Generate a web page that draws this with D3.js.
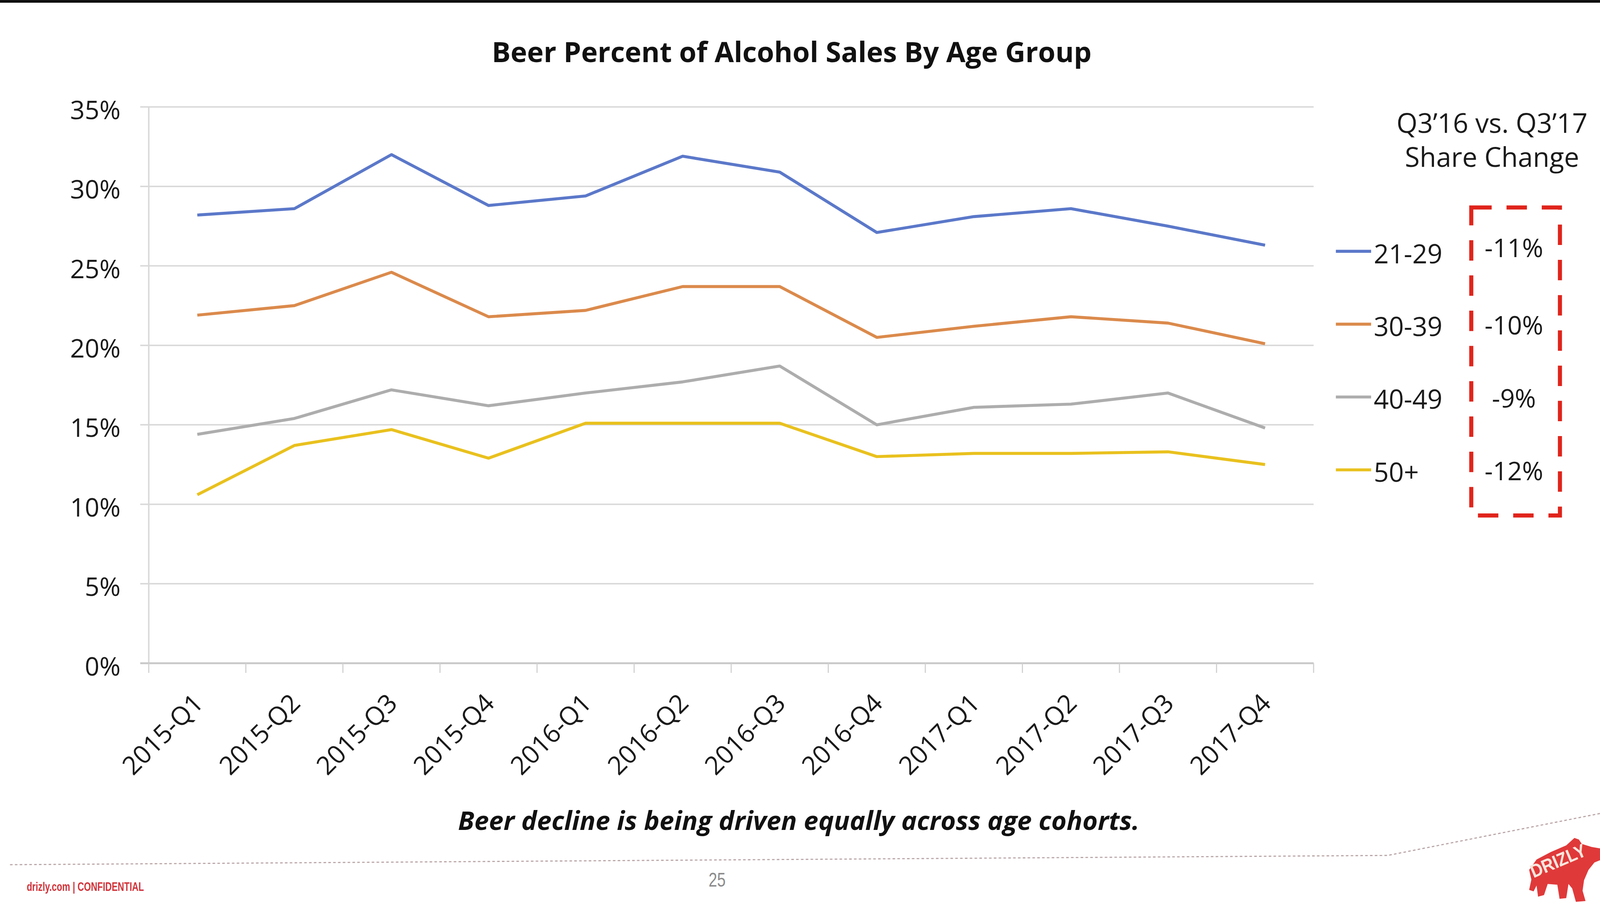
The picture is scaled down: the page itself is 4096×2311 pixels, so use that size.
<!DOCTYPE html>
<html>
<head>
<meta charset="utf-8">
<script src="https://cdn.jsdelivr.net/npm/d3@7"></script>
<style>
  html, body { margin: 0; padding: 0; background: #ffffff; }
  svg { display: block; }
</style>
</head>
<body>
<svg id="chart"></svg>
<script>
// ---------------- DATA ----------------
const categories = ["2015-Q1","2015-Q2","2015-Q3","2015-Q4","2016-Q1","2016-Q2","2016-Q3","2016-Q4","2017-Q1","2017-Q2","2017-Q3","2017-Q4"];
const seriesNames = ["21-29","30-39","40-49","50+"];
const age21_29  = [28.2, 28.6, 32.0, 28.8, 29.4, 31.9, 30.9, 27.1, 28.1, 28.6, 27.5, 26.3];
const age30_39  = [21.9, 22.5, 24.6, 21.8, 22.2, 23.7, 23.7, 20.5, 21.2, 21.8, 21.4, 20.1];
const age40_49  = [14.4, 15.4, 17.2, 16.2, 17.0, 17.7, 18.7, 15.0, 16.1, 16.3, 17.0, 14.8];
const age50plus = [10.6, 13.7, 14.7, 12.9, 15.1, 15.1, 15.1, 13.0, 13.2, 13.2, 13.3, 12.5];
const shareChange = ["-11%","-10%","-9%","-12%"];
const yTicks = [0, 5, 10, 15, 20, 25, 30, 35];
const titleText = "Beer Percent of Alcohol Sales By Age Group";
const legendHeader = ["Q3\u201916 vs. Q3\u201917", "Share Change"];
const captionText = "Beer decline is being driven equally across age cohorts.";
const footerText = "drizly.com | CONFIDENTIAL";
const pageNumber = "25";

const seriesValues = [age21_29, age30_39, age40_49, age50plus];
const seriesColors = ["#5B78C9", "#DB8A4C", "#ADADAD", "#E9C11E"];

// ---------------- LAYOUT (reference pixel space) ----------------
const W = 4313, H = 2433;
const svg = d3.select("#chart")
  .attr("width", 4096).attr("height", 2311)
  .attr("viewBox", `0 0 ${W} ${H}`);

const FONT = "'Open Sans', 'Noto Sans', sans-serif";
const NARROW = "'Liberation Sans Narrow', 'Liberation Sans', sans-serif";

function fitWidth(sel, target) {
  const w = sel.node().getComputedTextLength();
  const fs = parseFloat(sel.attr("font-size"));
  sel.attr("font-size", fs * target / w);
  return fs * target / w;
}

svg.append("rect").attr("x", 0).attr("y", 0).attr("width", W).attr("height", H).attr("fill", "#ffffff");
svg.append("rect").attr("x", 0).attr("y", 0).attr("width", W).attr("height", 7).attr("fill", "#000000");

const plot = { left: 401, right: 3541, top: 288, bottom: 1787 };

const x = d3.scaleBand().domain(categories).range([plot.left, plot.right]).padding(0);
const y = d3.scaleLinear().domain([0, 35]).range([plot.bottom, plot.top]);

// gridlines
svg.append("g").selectAll("line").data(yTicks.filter(d => d > 0)).join("line")
  .attr("x1", plot.left - 23).attr("x2", plot.right)
  .attr("y1", d => y(d)).attr("y2", d => y(d))
  .attr("stroke", "#D9D9D9").attr("stroke-width", 4);

// y axis line
svg.append("line")
  .attr("x1", plot.left).attr("x2", plot.left)
  .attr("y1", y(35)).attr("y2", y(0))
  .attr("stroke", "#D9D9D9").attr("stroke-width", 4);

// x axis line + ticks between categories
svg.append("line")
  .attr("x1", plot.left - 23).attr("x2", plot.right)
  .attr("y1", y(0)).attr("y2", y(0))
  .attr("stroke", "#C8C8C8").attr("stroke-width", 5);
const tickPos = categories.map(c => x(c)).concat([plot.right]);
svg.append("g").selectAll("line").data(tickPos).join("line")
  .attr("x1", d => d).attr("x2", d => d)
  .attr("y1", y(0)).attr("y2", y(0) + 26)
  .attr("stroke", "#D0D0D0").attr("stroke-width", 3);

// y axis labels
const yAxis = d3.axisLeft(y).tickValues(yTicks).tickFormat(d => d + "%").tickSize(0).tickPadding(0);
const yAxisG = svg.append("g").attr("transform", `translate(${325},0)`).call(yAxis);
yAxisG.select(".domain").remove();
yAxisG.selectAll("text")
  .attr("font-family", FONT).attr("font-size", 69).attr("fill", "#1A1A1A")
  .attr("dy", "0.47em").attr("x", 0);

// x axis labels (rotated)
const xAxis = d3.axisBottom(x).tickSize(0).tickPadding(0);
const xAxisG = svg.append("g").attr("transform", `translate(0,${plot.bottom})`).call(xAxis);
xAxisG.select(".domain").remove();
xAxisG.selectAll(".tick text")
  .attr("font-family", FONT).attr("font-size", 69).attr("fill", "#1A1A1A")
  .attr("text-anchor", "end")
  .attr("y", 0).attr("dy", 0)
  .attr("transform", "translate(20,112) rotate(-45)");

// lines
const line = d3.line()
  .x((d, i) => x(categories[i]) + x.bandwidth() / 2)
  .y(d => y(d));
svg.append("g").selectAll("path").data(seriesValues).join("path")
  .attr("d", d => line(d))
  .attr("fill", "none")
  .attr("stroke", (d, i) => seriesColors[i])
  .attr("stroke-width", 8)
  .attr("stroke-linejoin", "round")
  .attr("stroke-linecap", "butt");

// title
const title = svg.append("text")
  .attr("x", 2134).attr("y", 167)
  .attr("text-anchor", "middle")
  .attr("font-family", FONT).attr("font-weight", 700)
  .attr("font-size", 80).attr("fill", "#111111")
  .text(titleText);
fitWidth(title, 1617);

// legend header
const lh = svg.append("g");
const lh1 = lh.append("text").attr("x", 4022).attr("y", 358)
  .attr("text-anchor", "middle").attr("font-family", FONT).attr("font-size", 70)
  .attr("fill", "#1A1A1A").text(legendHeader[0]);
const lfs = fitWidth(lh1, 515);
lh.append("text").attr("x", 4022).attr("y", 449)
  .attr("text-anchor", "middle").attr("font-family", FONT).attr("font-size", lfs)
  .attr("fill", "#1A1A1A").text(legendHeader[1]);

// legend rows
const rowY = d3.scalePoint().domain(seriesNames).range([683, 1272]);
const legend = svg.append("g");
legend.selectAll("line").data(seriesNames).join("line")
  .attr("x1", 3601).attr("x2", 3696)
  .attr("y1", d => rowY(d) - 6).attr("y2", d => rowY(d) - 6)
  .attr("stroke", (d, i) => seriesColors[i]).attr("stroke-width", 8);
legend.selectAll("text.lab").data(seriesNames).join("text")
  .attr("class", "lab")
  .attr("x", 3703).attr("y", d => rowY(d) + 26)
  .attr("font-family", FONT).attr("font-size", 71).attr("fill", "#1A1A1A")
  .text(d => d);
legend.selectAll("text.val").data(shareChange).join("text")
  .attr("class", "val")
  .attr("x", 4081).attr("y", (d, i) => rowY(seriesNames[i]) + 22 - (i === 0 ? 12 : 0))
  .attr("text-anchor", "middle")
  .attr("font-family", FONT).attr("font-size", 69).attr("fill", "#1A1A1A")
  .text(d => d);

// dashed red box
svg.append("rect")
  .attr("x", 3966).attr("y", 559).attr("width", 239).attr("height", 830)
  .attr("fill", "none").attr("stroke", "#E0241B").attr("stroke-width", 11)
  .attr("stroke-dasharray", "55 40");

// caption
const cap = svg.append("text")
  .attr("x", 2153).attr("y", 2236)
  .attr("text-anchor", "middle")
  .attr("font-family", FONT).attr("font-weight", 700).attr("font-style", "italic")
  .attr("font-size", 75).attr("fill", "#111111")
  .text(captionText);
fitWidth(cap, 1837);

// footer dotted rule
svg.append("path")
  .attr("d", d3.line()([[27, 2330], [3741, 2305], [4313, 2192]]))
  .attr("fill", "none").attr("stroke", "#B9A4A6").attr("stroke-width", 3)
  .attr("stroke-dasharray", "7 6");

// footer text (condensed)
svg.append("text")
  .attr("x", 72).attr("y", 2401)
  .attr("font-family", NARROW).attr("font-weight", 700).attr("font-size", 34)
  .attr("fill", "#D2343A")
  .attr("textLength", 316).attr("lengthAdjust", "spacingAndGlyphs")
  .text(footerText);

svg.append("text")
  .attr("x", 1933).attr("y", 2389).attr("text-anchor", "middle")
  .attr("font-family", NARROW).attr("font-size", 52).attr("fill", "#8C8C8C")
  .attr("textLength", 46).attr("lengthAdjust", "spacingAndGlyphs")
  .text(pageNumber);

// logo (bear silhouette)
const logo = svg.append("g");
logo.append("path")
  .attr("d", "M4122,2344 L4142,2316 L4180,2296 L4222,2278 L4244,2258 L4256,2262 L4264,2274 L4290,2282 L4313,2286 L4313,2318 L4298,2324 L4282,2344 L4270,2372 L4266,2400 L4274,2428 L4248,2430 L4238,2394 L4228,2382 L4222,2420 L4204,2422 L4198,2384 L4172,2382 L4162,2412 L4146,2416 L4142,2386 L4134,2402 L4122,2398 L4128,2370 Z")
  .attr("fill", "#E0393A");
logo.append("text")
  .attr("transform", "translate(4134,2366) rotate(-23)")
  .attr("font-family", NARROW).attr("font-weight", 700).attr("font-size", 50)
  .attr("fill", "#F8E6DF")
  .attr("textLength", 158).attr("lengthAdjust", "spacingAndGlyphs")
  .text("DRIZLY");
</script>
</body>
</html>
